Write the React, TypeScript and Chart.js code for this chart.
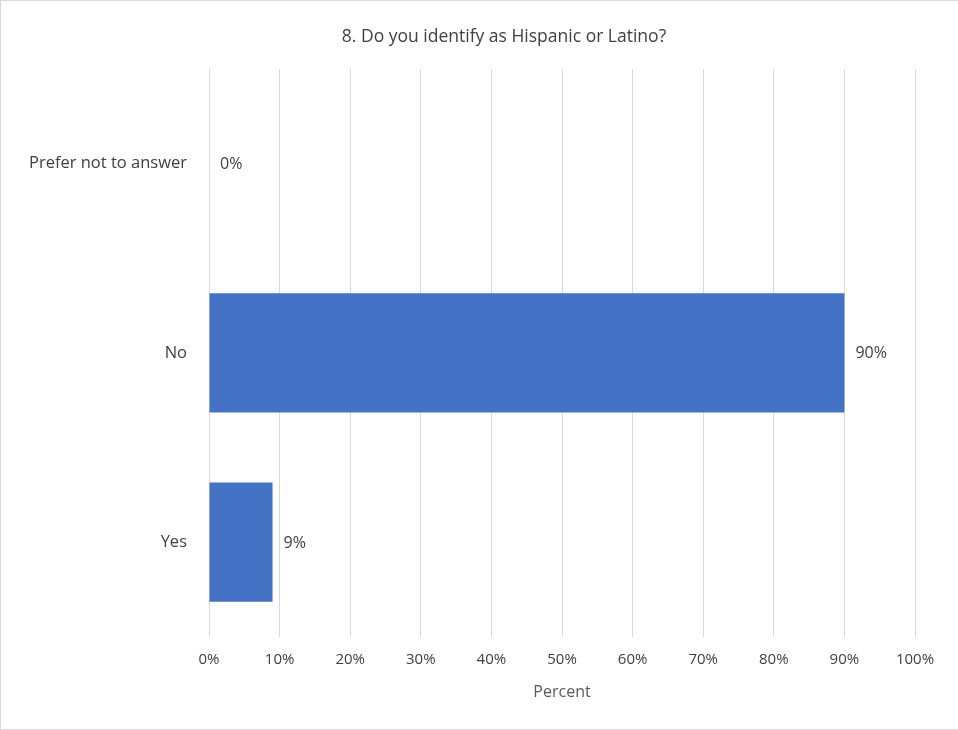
import React, { useEffect, useRef } from "react";
import { Chart, registerables } from "chart.js";

Chart.register(...registerables);

const chartTitle = "8. Do you identify as Hispanic or Latino?";
const categories = ["Prefer not to answer", "No", "Yes"];
const percentValues = [0, 90, 9];
const axisTitle = "Percent";
const axisMin = 0;
const axisMax = 100;
const axisStep = 10;

const FONT = "'Open Sans', 'Noto Sans', sans-serif";

const valueLabelPlugin = {
  id: "valueLabels",
  afterDatasetsDraw(chart: any) {
    const ctx = chart.ctx;
    const meta = chart.getDatasetMeta(0);
    ctx.save();
    ctx.font = `16px ${FONT}`;
    ctx.fillStyle = "#404040";
    ctx.textAlign = "left";
    ctx.textBaseline = "middle";
    meta.data.forEach((bar: any, i: number) => {
      const v = chart.data.datasets[0].data[i];
      ctx.fillText(`${v}%`, bar.x + 11, bar.y + 1);
    });
    ctx.restore();
  },
};

export default function App() {
  const ref = useRef<HTMLCanvasElement | null>(null);

  useEffect(() => {
    document.body.style.margin = "0";
    if (!ref.current) return;
    const chart = new Chart(ref.current, {
      type: "bar",
      data: {
        labels: categories,
        datasets: [
          {
            data: percentValues,
            backgroundColor: "#4472C4",
            borderWidth: 0,
            categoryPercentage: 1,
            barPercentage: 0.63,
          },
        ],
      },
      options: {
        indexAxis: "y",
        animation: false,
        responsive: false,
        maintainAspectRatio: false,
        layout: { padding: { left: 0, right: 0, top: 0, bottom: 27 } },
        plugins: {
          legend: { display: false },
          tooltip: { enabled: false },
          title: {
            display: true,
            text: chartTitle,
            color: "#404040",
            font: { family: FONT, size: 17.5, weight: "normal" },
            padding: { top: 26, bottom: 21 },
          },
        },
        scales: {
          x: {
            min: axisMin,
            max: axisMax,
            grid: { color: "#d9d9d9", lineWidth: 1, drawTicks: false },
            border: { display: false },
            ticks: {
              stepSize: axisStep,
              padding: 14,
              color: "#404040",
              font: { family: FONT, size: 15 },
              callback: (v: any) => `${v}%`,
            },
            title: {
              display: true,
              text: axisTitle,
              color: "#595959",
              font: { family: FONT, size: 16 },
              padding: { top: 0, bottom: 0 },
            },
          },
          y: {
            grid: { display: false, drawTicks: false },
            border: { display: false },
            ticks: {
              padding: 22,
              color: "#404040",
              font: { family: FONT, size: 16.5 },
            },
            afterFit: (scale: any) => {
              scale.width = 208;
            },
          },
          yRight: {
            position: "right",
            display: true,
            grid: { display: false, drawTicks: false },
            border: { display: false },
            ticks: { display: false },
            afterFit: (scale: any) => {
              scale.width = 92;
            },
          },
        },
      },
      plugins: [valueLabelPlugin],
    });
    return () => chart.destroy();
  }, []);

  return (
    <div
      style={{
        position: "fixed",
        left: 0,
        top: 0,
        width: 958,
        height: 730,
        overflow: "hidden",
        background: "#fff",
      }}
    >
      <div
        style={{
          position: "absolute",
          left: 0,
          top: 0,
          width: 1008,
          height: 730,
          boxSizing: "border-box",
          border: "1px solid #d9d9d9",
        }}
      >
        <canvas ref={ref} width={1006} height={728} style={{ display: "block" }} />
      </div>
    </div>
  );
}
